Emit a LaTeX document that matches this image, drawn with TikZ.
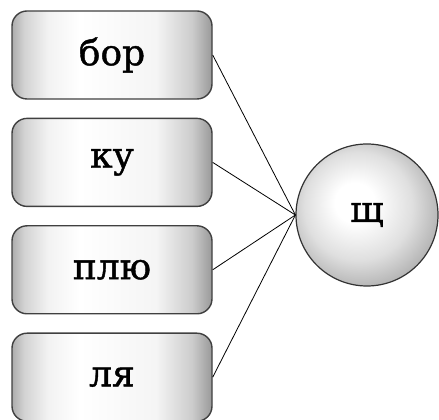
\documentclass[tikz,border=0pt]{standalone}
\usepackage{fontspec}
\setmainfont{DejaVu Serif}
\newfontfamily\syllfont[FakeBold=1.2]{DejaVu Serif}
\usetikzlibrary{calc,positioning}

\pgfdeclarehorizontalshading{syllshade}{100bp}{color(0bp)=(gray!65); color(25bp)=(gray!65); color(28bp)=(gray!35); color(34bp)=(gray!10); color(42bp)=(white); color(61bp)=(gray!8); color(70bp)=(gray!40); color(75bp)=(gray!80); color(100bp)=(gray!80)}
\pgfdeclareradialshading{letshade}{\pgfpoint{-5bp}{5bp}}{color(0bp)=(white); color(7bp)=(white); color(19bp)=(gray!25); color(27bp)=(gray!55); color(30bp)=(gray!65); color(50bp)=(gray!65)}

\begin{document}
\begin{tikzpicture}[x=1pt, y=1pt,
        syll/.style={draw=black!75, line width=1.4pt, rounded corners=15pt, shading=syllshade,
            minimum width=200pt, minimum height=88pt, font=\fontsize{36}{40}\syllfont},
        lett/.style={circle, draw=black!80, line width=1.2pt, shading=letshade,
            minimum size=142pt, font=\fontsize{36}{40}\syllfont},
        link/.style={line width=0.8pt}]
        \useasboundingbox (0, 0) rectangle (439, 420);

        \node[syll] (bor) at (112, 365) {бор};
        \node[syll, below=18pt of bor] (ku) {ку};
        \node[syll, below=18pt of ku] (plyu) {плю};
        \node[syll, below=18pt of plyu] (lya) {ля};

        \node[lett] (shch) at (367, 205) {щ};

        \draw[link] (bor.east) -- (shch.west);
        \draw[link] (ku.east) -- (shch.west);
        \draw[link] (plyu.east) -- (shch.west);
        \draw[link] (lya.east) -- (shch.west);
    \end{tikzpicture}
\end{document}
